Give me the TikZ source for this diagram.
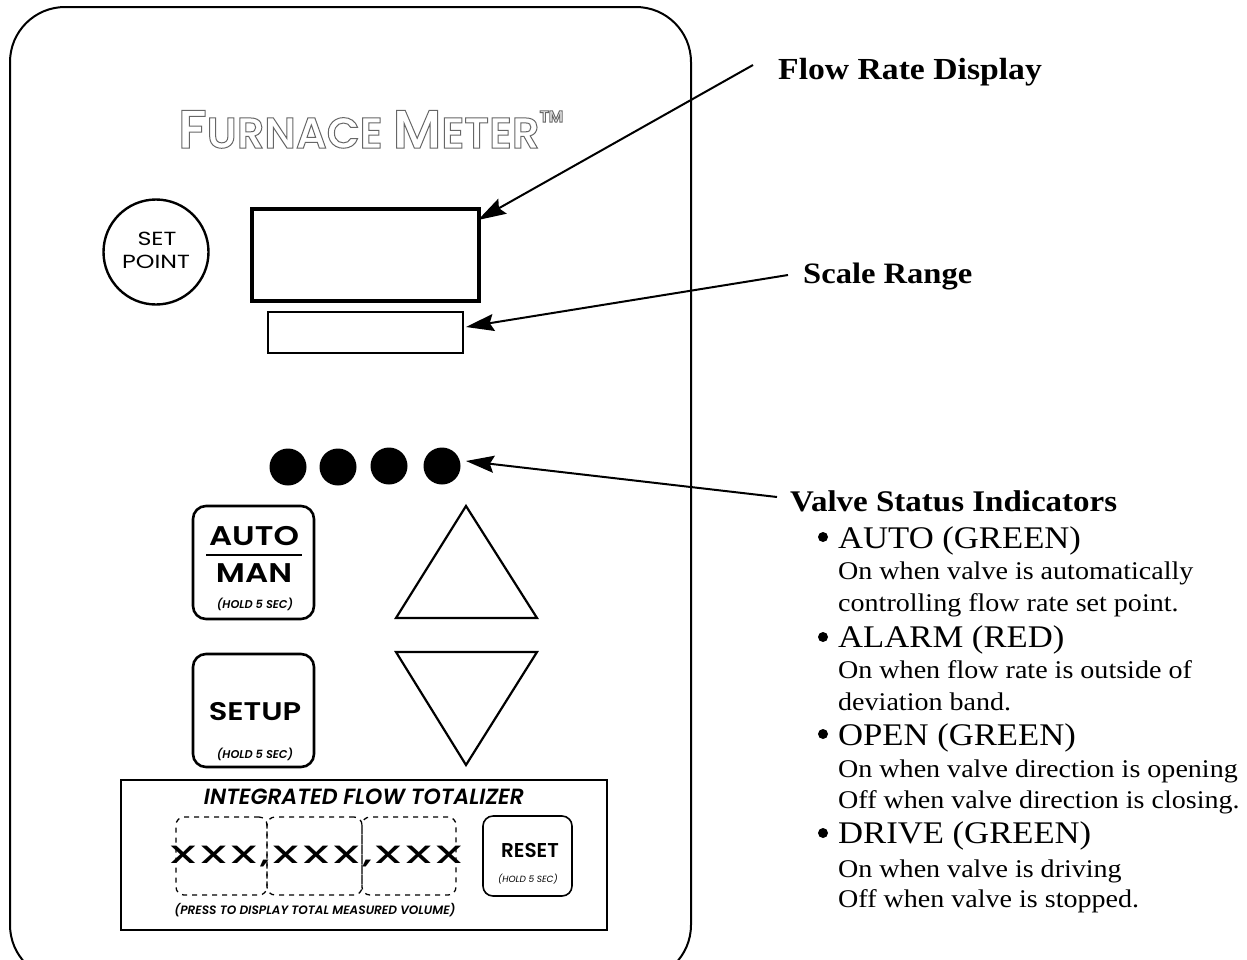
\documentclass[tikz,border=0pt]{standalone}
\usepackage{fontspec}
\setmainfont{Liberation Serif}
\newfontfamily\panelfont{Poppins}
\newfontfamily\brandfont{Poppins SemiBold}
\newfontfamily\widefont[FakeStretch=1.25]{Poppins}
\newfontfamily\panelbold{Poppins SemiBold}[ItalicFont={Poppins SemiBold Italic}]
\newfontfamily\keyfont[FakeStretch=1.2]{Poppins SemiBold}
\newfontfamily\xfont[FakeStretch=1.75,LetterSpace=6]{Poppins Medium}
\newfontfamily\pagefont[FakeStretch=1.1]{Liberation Serif}
\usetikzlibrary{arrows.meta,positioning,calc}
\tikzset{
  x=1pt,y=-1pt,
  panel/.style={rectangle,draw=black,line width=2pt,inner sep=0pt,outer sep=0pt,anchor=north west},
  keybox/.style={panel,rounded corners=13pt,line width=2.6pt},
  dashbox/.style={panel,rounded corners=8pt,line width=1.3pt,dash pattern=on 5pt off 5pt},
  led/.style={circle,fill=black,minimum size=37pt,inner sep=0pt,outer sep=0pt},
  tag/.style={anchor=base west,inner sep=0pt,font=\pagefont\bfseries\fontsize{30}{32}\selectfont},
  big/.style={anchor=base west,inner sep=0pt,font=\pagefont\fontsize{31.5}{34}\selectfont},
  small/.style={anchor=base west,inner sep=0pt,font=\pagefont\fontsize{25.5}{28}\selectfont},
  dot/.style={circle,fill=black,minimum size=10pt,inner sep=0pt},
  keytext/.style={anchor=base,inner sep=0pt,font=\keyfont\fontsize{27}{30}\selectfont},
  holdtext/.style={anchor=base,inner sep=0pt,font=\panelbold\itshape\fontsize{11.3}{13}\selectfont},
  pointer/.style={line width=2pt,-{Stealth[length=28pt,width=17pt,inset=4pt]}},
}
\newcommand{\outlined}[1]{\special{pdf:code q 1 Tr 1 w 0.4 G}#1\special{pdf:code Q}}
\begin{document}
\begin{tikzpicture}
\useasboundingbox (0,0) rectangle (1247,959);
\begin{scope}
\clip (0,0) rectangle (1247,959);
\draw[line width=2pt,rounded corners=55pt] (10,7) rectangle (691,980);
\end{scope}
% brand
\node[anchor=base west,inner sep=0pt,text=black!55] (brand) at (178,148)
 {\brandfont\outlined{\fontsize{54}{56}\selectfont F\fontsize{43}{45}\selectfont URNACE \fontsize{54}{56}\selectfont M\fontsize{43}{45}\selectfont ETER\raisebox{26pt}{\fontsize{16}{18}\selectfont TM}}};
% displays
\node[panel,line width=4.5pt,minimum width=227pt,minimum height=92pt] (disp) at (252,209) {};
\node[panel,line width=2.5pt,minimum width=195pt,minimum height=41pt] (scale) at (268,312) {};
\node[circle,draw,line width=2.4pt,minimum size=105pt,inner sep=0pt,outer sep=0pt] (setpoint) at (156,252) {};
\node[anchor=base,inner sep=0pt,font=\widefont\fontsize{19}{21}\selectfont] (setw) at (157,245) {SET};
\node[anchor=base,inner sep=0pt,font=\widefont\fontsize{19}{21}\selectfont] (pointw) at (156,268) {POINT};
% leds
\node[led] (d1) at (288,467) {};
\node[led] (d2) at (338,467) {};
\node[led] (d3) at (389,466) {};
\node[led] (d4) at (442,466) {};
% keys
\node[keybox,minimum width=121pt,minimum height=113pt] (auto) at (193,506) {};
\node[keytext] (autot) at (254,545) {AUTO};
\node[keytext] (mant) at (254,582) {MAN};
\node[holdtext] (hold1) at (255,608) {(HOLD 5 SEC)};
\draw[line width=1.5pt] (auto.west |- 0,555) ++(13,0) coordinate (barl) -- ++(96,0) coordinate (barr);
\node[keybox,minimum width=121pt,minimum height=113pt] (setup) at (193,654) {};
\node[keytext,font=\keyfont\fontsize{25.5}{28}\selectfont] (setupt) at (255,720) {SETUP};
\node[holdtext] (hold2) at (255,758) {(HOLD 5 SEC)};
% triangles
\draw[line width=2.2pt,line join=miter] (466,506) -- (537,618) -- (396,618) -- cycle;
\draw[line width=2.2pt,line join=miter] (396,652) -- (537,652) -- (466,765) -- cycle;
% totalizer
\node[panel,line width=2.6pt,minimum width=486pt,minimum height=150pt] (tot) at (121,780) {};
\node[anchor=base,inner sep=0pt,font=\panelbold\itshape\fontsize{22}{24}\selectfont] (tott) at (364,804) {INTEGRATED FLOW TOTALIZER};
\node[dashbox,minimum width=91pt,minimum height=78pt] (x1) at (176,817) {};
\node[dashbox,minimum width=95pt,minimum height=78pt] (x2) at (267,817) {};
\node[dashbox,minimum width=94pt,minimum height=78pt] (x3) at (362,817) {};
\node[anchor=base,inner sep=0pt,font=\xfont\fontsize{25}{27}\selectfont] (xxx) at (316,863) {XXX,XXX,XXX};
\node[anchor=base,inner sep=0pt,font=\panelbold\itshape\fontsize{12.1}{14}\selectfont] (press) at (315,914) {(PRESS TO DISPLAY TOTAL MEASURED VOLUME)};
\node[keybox,line width=1.6pt,rounded corners=10pt,minimum width=89pt,minimum height=80pt] (reset) at (483,816) {};
\node[anchor=base,inner sep=0pt,font=\panelbold\fontsize{20}{22}\selectfont] (resett) at (530,857) {RESET};
\node[holdtext,font=\panelfont\itshape\fontsize{9}{11}\selectfont] (hold3) at (528,882) {(HOLD 5 SEC)};
% labels
\node[tag,font=\pagefont\bfseries\fontsize{30.6}{33}\selectfont] (flow) at (778,79) {Flow Rate Display};
\node[tag,font=\pagefont\bfseries\fontsize{29.6}{32}\selectfont] (range) at (803,283) {Scale Range};
\node[tag] (valve) at (790,511) {Valve Status Indicators};
% pointers
\coordinate (flowtail) at (753,65);
\coordinate (rangetail) at (788,275);
\coordinate (valvetail) at (777,497);
\draw[pointer] (flowtail) -- ($(disp.north east)+(-1,11)$);
\draw[pointer] (rangetail) -- ($(scale.east)+(3,-5.5)$);
\draw[pointer] (valvetail) -- ($(d4.east)+(5.5,-5)$);
% list
\node[dot] (b1) at (823,537) {};
\node[dot] (b2) at (823,637) {};
\node[dot] (b3) at (823,734) {};
\node[dot] (b4) at (823,833) {};
\node[big] (l1) at (838,548) {AUTO (GREEN)};
\node[small] (l2) at (838,579) {On when valve is automatically};
\node[small] (l3) at (838,611) {controlling flow rate set point.};
\node[big] (l4) at (838,647) {ALARM (RED)};
\node[small] (l5) at (838,678) {On when flow rate is outside of};
\node[small] (l6) at (838,710) {deviation band.};
\node[big] (l7) at (838,745) {OPEN (GREEN)};
\node[small] (l8) at (838,777) {On when valve direction is opening};
\node[small] (l9) at (838,808) {Off when valve direction is closing.};
\node[big] (l10) at (838,843) {DRIVE (GREEN)};
\node[small] (l11) at (838,877) {On when valve is driving};
\node[small] (l12) at (838,907) {Off when valve is stopped.};
\end{tikzpicture}
\end{document}
